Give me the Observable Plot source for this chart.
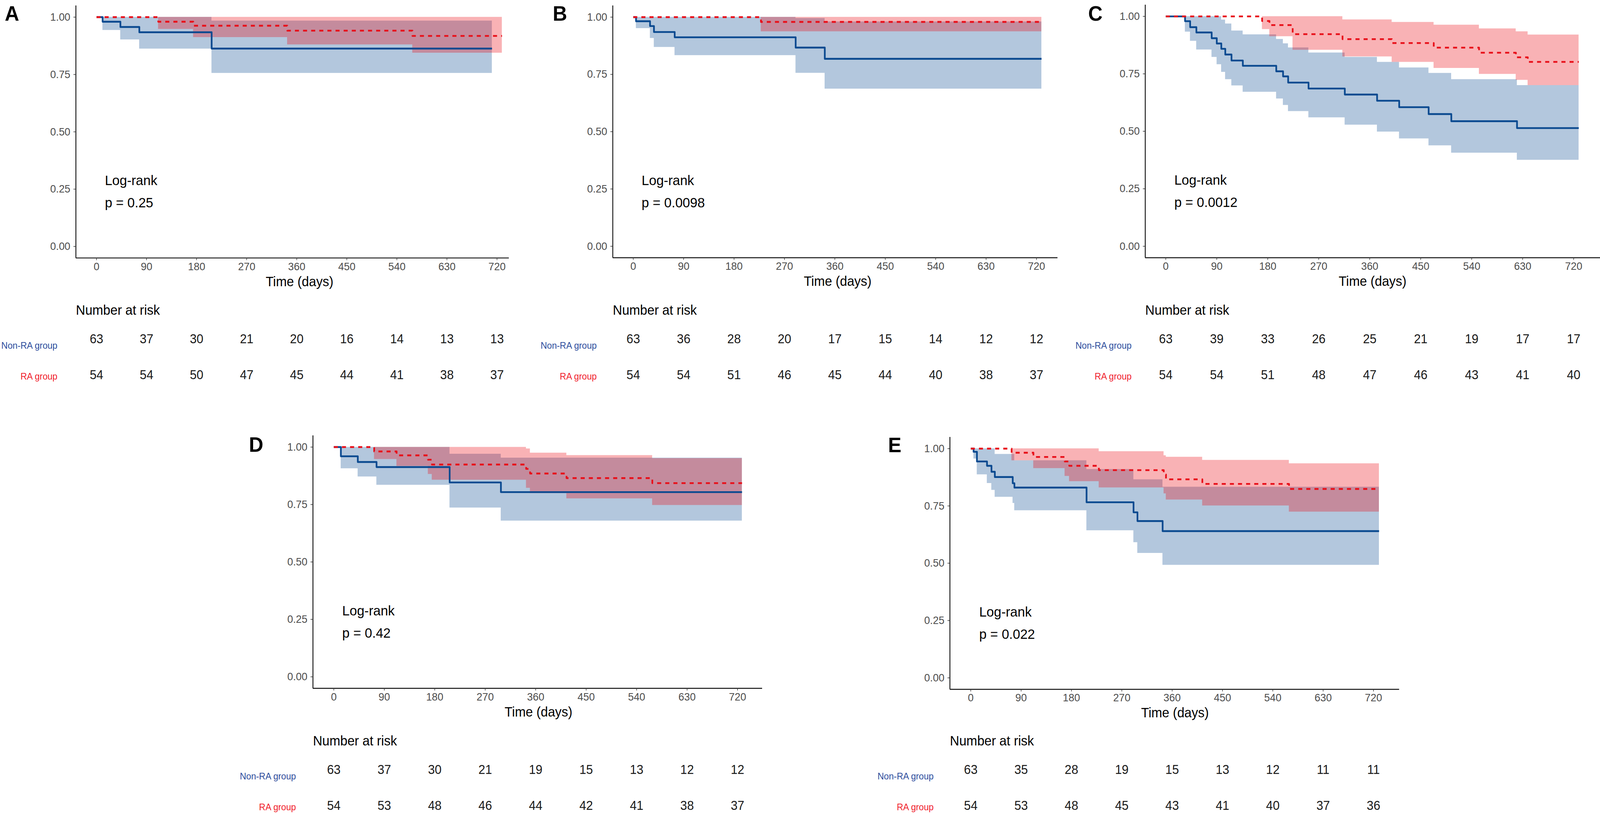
<!DOCTYPE html>
<html><head><meta charset="utf-8">
<script src="https://cdn.jsdelivr.net/npm/d3@7"></script>
<script src="https://cdn.jsdelivr.net/npm/@observablehq/plot@0.6"></script>
<style>
html,body{margin:0;padding:0;background:#fff;overflow:hidden;}
#fig{position:relative;width:4333px;height:2082px;overflow:hidden;background:#fff;font-family:"Liberation Sans",Arial,sans-serif;transform-origin:0 0;}
.letter{position:absolute;font-weight:bold;font-size:54px;line-height:1;color:#000;font-family:"Liberation Sans",Arial,sans-serif;}
</style></head><body><div id="fig"></div><script>
// ---------- tick labels / categories ----------
const xTicks = [0, 90, 180, 270, 360, 450, 540, 630, 720];
const yTicks = [0, 0.25, 0.5, 0.75, 1];
const groups = ["Non-RA group", "RA group"];
const pValues = {A: "0.25", B: "0.0098", C: "0.0012", D: "0.42", E: "0.022"};

// ---------- Panel A ----------
const A_non_t  = [0, 11, 43, 77, 207, 711];
const A_non_s  = [1, 0.980, 0.957, 0.934, 0.863, 0.863];
const A_non_lo = [1, 0.943, 0.902, 0.862, 0.756, 0.756];
const A_non_hi = [1, 1, 1, 1, 0.984, 0.984];
const A_ra_t   = [0, 111, 174, 343, 568, 729];
const A_ra_s   = [1, 0.980, 0.9625, 0.941, 0.918, 0.918];
const A_ra_lo  = [1, 0.948, 0.912, 0.880, 0.844, 0.844];
const A_ra_hi  = [1, 1, 1, 1, 1, 1];
const A_risk_non = [63, 37, 30, 21, 20, 16, 14, 13, 13];
const A_risk_ra  = [54, 54, 50, 47, 45, 44, 41, 38, 37];

// ---------- Panel B ----------
const B_non_t  = [0, 5, 30, 37, 74, 290, 342, 729];
const B_non_s  = [1, 0.982, 0.961, 0.935, 0.912, 0.867, 0.818, 0.818];
const B_non_lo = [1, 0.951, 0.908, 0.869, 0.833, 0.756, 0.687, 0.687];
const B_non_hi = [1, 1, 1, 1, 1, 0.995, 0.980, 0.980];
const B_ra_t   = [0, 228, 729];
const B_ra_s   = [1, 0.979, 0.979];
const B_ra_lo  = [1, 0.937, 0.937];
const B_ra_hi  = [1, 1, 1];
const B_risk_non = [63, 36, 28, 20, 17, 15, 14, 12, 12];
const B_risk_ra  = [54, 54, 51, 46, 45, 44, 40, 38, 37];

// ---------- Panel C ----------
const C_non_t  = [0, 34, 43, 54, 81, 90, 98, 105, 116, 136, 195, 207, 216, 252, 316, 373, 412, 464, 504, 620, 729];
const C_non_s  = [1, 0.979, 0.953, 0.930, 0.905, 0.882, 0.859, 0.834, 0.808, 0.785, 0.761, 0.739, 0.712, 0.686, 0.660, 0.633, 0.605, 0.575, 0.544, 0.514, 0.514];
const C_non_lo = [1, 0.933, 0.893, 0.855, 0.823, 0.791, 0.758, 0.726, 0.699, 0.671, 0.642, 0.614, 0.587, 0.560, 0.528, 0.498, 0.468, 0.438, 0.406, 0.375, 0.375];
const C_non_hi = [1, 1, 1, 1, 1, 1, 0.985, 0.968, 0.9375, 0.921, 0.901, 0.882, 0.864, 0.842, 0.823, 0.801, 0.777, 0.753, 0.726, 0.700, 0.700];
const C_ra_t   = [0, 170, 183, 224, 312, 399, 473, 553, 618, 639, 729];
const C_ra_s   = [1, 0.980, 0.962, 0.9225, 0.901, 0.884, 0.864, 0.842, 0.822, 0.802, 0.802];
const C_ra_lo  = [1, 0.944, 0.913, 0.854, 0.825, 0.801, 0.775, 0.749, 0.723, 0.700, 0.700];
const C_ra_hi  = [1, 1, 1, 1, 0.986, 0.975, 0.963, 0.947, 0.934, 0.920, 0.920];
const C_risk_non = [63, 39, 33, 26, 25, 21, 19, 17, 17];
const C_risk_ra  = [54, 54, 51, 48, 47, 46, 43, 41, 40];

// ---------- Panel D ----------
const D_non_t  = [0, 12.6, 42.8, 76.2, 206.6, 298, 728];
const D_non_s  = [1, 0.960, 0.935, 0.913, 0.846, 0.804, 0.804];
const D_non_lo = [1, 0.907, 0.871, 0.835, 0.736, 0.679, 0.679];
const D_non_hi = [1, 1, 1, 1, 0.970, 0.953, 0.953];
const D_ra_t   = [0, 72, 112, 168, 175, 343, 350, 415, 568, 728];
const D_ra_s   = [1, 0.981, 0.964, 0.945, 0.924, 0.905, 0.885, 0.865, 0.843, 0.843];
const D_ra_lo  = [1, 0.947, 0.917, 0.882, 0.857, 0.822, 0.799, 0.776, 0.747, 0.747];
const D_ra_hi  = [1, 1, 1, 1, 1, 0.993, 0.975, 0.964, 0.951, 0.951];
const D_risk_non = [63, 37, 30, 21, 19, 15, 13, 12, 12];
const D_risk_ra  = [54, 53, 48, 46, 44, 42, 41, 38, 37];

// ---------- Panel E ----------
const E_non_t  = [0, 5, 11, 29, 37, 43, 75, 78, 207, 291, 298, 343, 730];
const E_non_s  = [1, 0.986, 0.944, 0.925, 0.899, 0.876, 0.849, 0.830, 0.766, 0.722, 0.684, 0.640, 0.640];
const E_non_lo = [1, 0.956, 0.887, 0.849, 0.819, 0.789, 0.762, 0.730, 0.643, 0.591, 0.544, 0.492, 0.492];
const E_non_hi = [1, 1, 1, 1, 1, 0.976, 0.976, 0.948, 0.910, 0.865, 0.865, 0.833, 0.833];
const E_ra_t   = [0, 73, 112, 168, 176, 229, 345, 349, 414, 569, 730];
const E_ra_s   = [1, 0.982, 0.9635, 0.944, 0.925, 0.906, 0.887, 0.866, 0.846, 0.824, 0.824];
const E_ra_lo  = [1, 0.948, 0.914, 0.880, 0.857, 0.830, 0.804, 0.777, 0.751, 0.724, 0.724];
const E_ra_hi  = [1, 1, 1, 1, 1, 0.988, 0.970, 0.9635, 0.950, 0.935, 0.935];
const E_risk_non = [63, 35, 28, 19, 15, 13, 12, 11, 11];
const E_risk_ra  = [54, 53, 48, 45, 43, 41, 40, 37, 36];

// ---------- styles ----------
const BLUE = "#0b4a90", BLUE_FILL = "#02448e";
const RED = "#e8101a", RED_FILL = "#eb000a";
const BLUE_LABEL = "#2c4c9c", RED_LABEL = "#f0202a";
const FONT = "Liberation Sans, Arial, Helvetica, sans-serif";

// ---------- page layout (pixels in the 4333x2082 design) ----------
const layout = {
  A: {axisLeft: 205,    tick0: 260.8,  tick720: 1345.5, y1: 43.6,   y0: 631,    right: 1378,   letter: [13, 7],      rowNon: 868,   labelDx: -50},
  B: {axisLeft: 1659.2, tick0: 1714.6, tick720: 2806.7, y1: 43.6,   y0: 630.4,  right: 2864,   letter: [1497, 7],    rowNon: 868,   labelDx: -43.5},
  C: {axisLeft: 3100.5, tick0: 3156.1, tick720: 4260.7, y1: 41.3,   y0: 630,    right: 4333,   letter: [2947, 7],    rowNon: 868,   labelDx: -37},
  D: {axisLeft: 846.8,  tick0: 903.3,  tick720: 1996.7, y1: 1144.7, y0: 1733.1, right: 2063.7, letter: [674, 1111],  rowNon: 1970.6, labelDx: -46},
  E: {axisLeft: 2572,   tick0: 2628.5, tick720: 3719.1, y1: 1147.9, y0: 1734.9, right: 3789,   letter: [2405, 1112], rowNon: 1971,  labelDx: -44}
};

const panels = [
  {key: "A", non: [A_non_t, A_non_s, A_non_lo, A_non_hi], ra: [A_ra_t, A_ra_s, A_ra_lo, A_ra_hi], risk: [A_risk_non, A_risk_ra]},
  {key: "B", non: [B_non_t, B_non_s, B_non_lo, B_non_hi], ra: [B_ra_t, B_ra_s, B_ra_lo, B_ra_hi], risk: [B_risk_non, B_risk_ra]},
  {key: "C", non: [C_non_t, C_non_s, C_non_lo, C_non_hi], ra: [C_ra_t, C_ra_s, C_ra_lo, C_ra_hi], risk: [C_risk_non, C_risk_ra]},
  {key: "D", non: [D_non_t, D_non_s, D_non_lo, D_non_hi], ra: [D_ra_t, D_ra_s, D_ra_lo, D_ra_hi], risk: [D_risk_non, D_risk_ra]},
  {key: "E", non: [E_non_t, E_non_s, E_non_lo, E_non_hi], ra: [E_ra_t, E_ra_s, E_ra_lo, E_ra_hi], risk: [E_risk_non, E_risk_ra]}
];

const fig = document.getElementById("fig");

function rows([t, s, lo, hi]) {
  return t.map((d, i) => ({t: d, s: s[i], lo: lo[i], hi: hi[i]}));
}

function place(svg, left, top) {
  svg.style.position = "absolute";
  svg.style.left = left + "px";
  svg.style.top = top + "px";
  svg.style.maxWidth = "none";
  svg.style.overflow = "visible";
  svg.style.background = "transparent";
  fig.appendChild(svg);
}

for (const P of panels) {
  const L = layout[P.key];
  const pxPerDay = (L.tick720 - L.tick0) / 720;
  const d0 = (L.axisLeft - L.tick0) / pxPerDay;
  const d1 = (L.right - L.tick0) / pxPerDay;
  const xMid = 365; // centre of the ggplot panel range [-36.5, 766.5]
  const ySpan = L.y0 - L.y1;
  const yTop = L.y1 - 0.05 * ySpan, yBot = L.y0 + 0.05 * ySpan;
  const mL = 130, mR = 40, mT = 8, mB = 90;
  const width = (L.right - L.axisLeft) + mL + mR;
  const height = (yBot - yTop) + mT + mB;

  const nonRows = rows(P.non), raRows = rows(P.ra);

  const km = Plot.plot({
    width, height,
    marginLeft: mL, marginRight: mR, marginTop: mT, marginBottom: mB,
    style: {fontFamily: FONT, background: "transparent", overflow: "visible"},
    x: {domain: [d0, d1]},
    y: {domain: [-0.05, 1.05]},
    marks: [
      Plot.areaY(nonRows, {x: "t", y1: "lo", y2: "hi", curve: "step-after", fill: BLUE_FILL, fillOpacity: 0.3}),
      Plot.areaY(raRows, {x: "t", y1: "lo", y2: "hi", curve: "step-after", fill: RED_FILL, fillOpacity: 0.3}),
      Plot.line(nonRows, {x: "t", y: "s", curve: "step-after", stroke: BLUE, strokeWidth: 4.6, strokeLinecap: "butt"}),
      Plot.line(raRows, {x: "t", y: "s", curve: "step-after", stroke: RED, strokeWidth: 4.6, strokeDasharray: "11,11", strokeLinecap: "butt"}),
      Plot.ruleX([d0], {stroke: "#111", strokeWidth: 2.4}),
      Plot.ruleY([-0.05], {stroke: "#111", strokeWidth: 2.4}),
      Plot.axisY({ticks: yTicks, tickFormat: d3.format(".2f"), tickSize: 6, tickPadding: 9, fontSize: 28, color: "#4d4d4d", stroke: "#333", strokeWidth: 1.5, label: null}),
      Plot.axisX({ticks: xTicks, tickFormat: d => String(d), tickSize: 6, tickPadding: 5, fontSize: 28, color: "#4d4d4d", stroke: "#333", strokeWidth: 1.5, label: null}),
      Plot.text(["Time (days)"], {x: () => xMid, frameAnchor: "bottom", dy: 61, fontSize: 35, fill: "#000", lineAnchor: "middle"}),
      Plot.text(["Log-rank\np = " + pValues[P.key]], {x: () => 15, y: () => 0.25, textAnchor: "start", lineAnchor: "middle", fontSize: 36, lineHeight: 1.58, fill: "#000"})
    ]
  });
  place(km, L.axisLeft - mL, yTop - mT);

  // risk table
  const rowStep = 92;
  const rT = 90, rB = 20;
  const bandTop = L.rowNon - rowStep / 2;
  const riskRows = [];
  groups.forEach((g, gi) => xTicks.forEach((t, i) => riskRows.push({t, g, n: P.risk[gi][i]})));
  const risk = Plot.plot({
    width, height: rowStep * 2 + rT + rB,
    marginLeft: mL, marginRight: mR, marginTop: rT, marginBottom: rB,
    style: {fontFamily: FONT, background: "transparent", overflow: "visible"},
    x: {domain: [d0, d1], axis: null},
    y: {type: "band", domain: groups, padding: 0, axis: null},
    marks: [
      Plot.text(riskRows, {x: "t", y: "g", text: d => String(d.n), fontSize: 33, fill: "#1a1a1a"}),
      Plot.text(["Number at risk"], {frameAnchor: "top-left", textAnchor: "start", dy: -41, fontSize: 35, fill: "#000"}),
      Plot.text([groups[0]], {y: d => d, frameAnchor: "left", textAnchor: "end", dx: L.labelDx, dy: 17, fontSize: 24, fill: BLUE_LABEL}),
      Plot.text([groups[1]], {y: d => d, frameAnchor: "left", textAnchor: "end", dx: L.labelDx, dy: 4, fontSize: 24, fill: RED_LABEL})
    ]
  });
  place(risk, L.axisLeft - mL, bandTop - rT);

  const letter = document.createElement("div");
  letter.className = "letter";
  letter.textContent = P.key;
  letter.style.left = L.letter[0] + "px";
  letter.style.top = L.letter[1] + "px";
  fig.appendChild(letter);
}

// fit the 4333x2082 design into whatever CSS viewport the browser reports
function fit() {
  const sx = window.innerWidth / 4333;
  const sy = window.innerHeight / 2082;
  fig.style.transform = `scale(${sx}, ${sy})`;
}
fit();
window.addEventListener("resize", fit);
</script></body></html>
